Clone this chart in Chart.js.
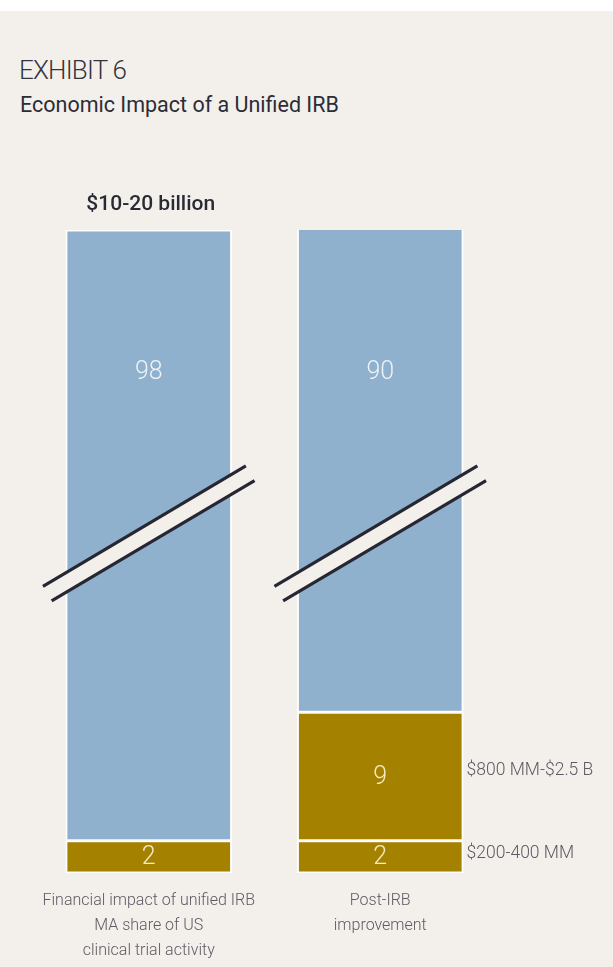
<!DOCTYPE html>
<html>
<head>
<meta charset="utf-8">
<title>Economic Impact of a Unified IRB</title>
<script src="https://cdn.jsdelivr.net/npm/chart.js@4.4.1/dist/chart.umd.min.js"></script>
<style>
    html, body { margin: 0; padding: 0; }
    body {
        width: 613px;
        height: 967px;
        background: linear-gradient(#ffffff 0, #ffffff 11px, #f3f0eb 11px);
        position: relative;
        overflow: hidden;
        font-family: Roboto, "Open Sans", sans-serif;
    }
    .exhibit {
        position: absolute; left: 19px; top: 55px;
        font-size: 26px; font-weight: 300; color: #34343f;
        letter-spacing: -0.8px;
    }
    .headline {
        position: absolute; left: 20px; top: 92px;
        font-size: 21.5px; font-weight: 400; color: #2c2c37;
    }
    #chartWrap { position: absolute; left: 0; top: 0; width: 613px; height: 967px; }
</style>
</head>
<body>
<div class="exhibit">EXHIBIT 6</div>
<div class="headline">Economic Impact of a Unified IRB</div>
<div id="chartWrap"><canvas id="irbChart" width="613" height="967"></canvas></div>

<script>
/* ─── Data ─────────────────────────────────────────────────────── */
const CATEGORIES = [
    ['Financial impact of unified IRB', 'MA share of US', 'clinical trial activity'],
    ['Post-IRB', 'improvement'],
];
const LOWER_VALUES  = [2, 2];
const MIDDLE_VALUES = [null, 9];
const UPPER_VALUES  = [98, 90];

const TOTAL_NOTES  = ['$10-20 billion', null];
const LOWER_NOTES  = [null, '$200-400 MM'];
const MIDDLE_NOTES = [null, '$800 MM-$2.5 B'];

// where the axis is cut (value on the y scale)
const BREAK_AT = 44;

/* ─── Colours ──────────────────────────────────────────────────── */
const BLUE   = '#8fb1cd';
const GOLD   = '#a58100';
const PAPER  = '#f3f0eb';
const INK    = '#272733';
const NOTE   = '#5c5a63';
const THIN   = '300 25px Roboto, "Open Sans", sans-serif';

/* ─── Piecewise linear scale for the broken axis ───────────────── */
class BrokenScale extends Chart.LinearScale {
    static id = 'broken';
    static defaults = Chart.LinearScale.defaults;

    getPixelForValue(value) {
        const knots = this.options.knots;
        const h = this.bottom - this.top;
        if (value <= knots[0][0]) return this.bottom - knots[0][1] * h;
        for (let i = 1; i < knots.length; i++) {
            const [v0, s0] = knots[i - 1];
            const [v1, s1] = knots[i];
            if (value <= v1 || i === knots.length - 1) {
                const share = s0 + (value - v0) / (v1 - v0) * (s1 - s0);
                return this.bottom - share * h;
            }
        }
    }

    getValueForPixel(pixel) {
        const knots = this.options.knots;
        const share = (this.bottom - pixel) / (this.bottom - this.top);
        for (let i = 1; i < knots.length; i++) {
            const [v0, s0] = knots[i - 1];
            const [v1, s1] = knots[i];
            if (share <= s1 || i === knots.length - 1) {
                return v0 + (share - s0) / (s1 - s0) * (v1 - v0);
            }
        }
    }
}
Chart.register(BrokenScale);

/* ─── Labels, notes and break marks ────────────────────────────── */
const annotations = {
    id: 'annotations',
    afterDatasetsDraw(chart) {
        const { ctx, chartArea } = chart;
        const yScale = chart.scales.y;
        const lower  = chart.getDatasetMeta(0).data;
        const middle = chart.getDatasetMeta(1).data;
        const upper  = chart.getDatasetMeta(2).data;

        ctx.save();

        // break marks: paper band with two dark rules
        const angle = -30.7 * Math.PI / 180;
        const half  = 118;
        const gap   = 8.5;
        const yBreak = yScale.getPixelForValue(BREAK_AT);
        upper.forEach(bar => {
            ctx.save();
            ctx.translate(bar.x, yBreak);
            ctx.rotate(angle);
            ctx.fillStyle = PAPER;
            ctx.fillRect(-half + 6, -gap, 2 * half - 12, 2 * gap);
            ctx.strokeStyle = INK;
            ctx.lineWidth = 3.2;
            ctx.beginPath();
            ctx.moveTo(-half, -gap); ctx.lineTo(half, -gap);
            ctx.moveTo(-half, gap);  ctx.lineTo(half, gap);
            ctx.stroke();
            ctx.restore();
        });

        ctx.textAlign = 'center';
        ctx.textBaseline = 'middle';
        ctx.font = THIN;

        // values inside the segments
        ctx.fillStyle = 'rgba(244, 247, 250, 0.92)';
        upper.forEach((bar, i) => {
            if (UPPER_VALUES[i] == null) return;
            const top = Math.max(bar.y, chartArea.top);
            ctx.fillText(UPPER_VALUES[i], bar.x, top + 143);
        });
        ctx.fillStyle = 'rgba(250, 238, 200, 0.95)';
        [[middle, MIDDLE_VALUES], [lower, LOWER_VALUES]].forEach(([bars, values]) => {
            bars.forEach((bar, i) => {
                if (values[i] == null) return;
                ctx.fillText(values[i], bar.x, (bar.y + bar.base) / 2 + 1);
            });
        });

        // range notes to the right of the bars
        ctx.textAlign = 'left';
        ctx.fillStyle = NOTE;
        ctx.font = '300 17.5px Roboto, "Open Sans", sans-serif';
        [[middle, MIDDLE_NOTES, -6], [lower, LOWER_NOTES, -3]].forEach(([bars, notes, shift]) => {
            bars.forEach((bar, i) => {
                if (!notes[i]) return;
                ctx.fillText(notes[i], bar.x + bar.width / 2 + 3, (bar.y + bar.base) / 2 + shift);
            });
        });

        // total above the bar
        ctx.textAlign = 'center';
        ctx.fillStyle = '#2a2a35';
        ctx.font = '500 21px Roboto, "Open Sans", sans-serif';
        upper.forEach((bar, i) => {
            if (!TOTAL_NOTES[i]) return;
            ctx.fillText(TOTAL_NOTES[i], bar.x + 2, chartArea.top - 25);
        });

        ctx.restore();
    },
};

/* ─── Chart ────────────────────────────────────────────────────── */
const segment = {
    borderColor   : '#ffffff',
    borderWidth   : { top: 1.5, bottom: 1.5, left: 2, right: 2 },
    borderSkipped : false,
    barPercentage : 1,
    categoryPercentage: 0.72,
    clip: { left: false, right: false, bottom: false, top: 0 },
};

new Chart(document.getElementById('irbChart'), {
    type: 'bar',
    data: {
        labels: CATEGORIES,
        datasets: [
            { label: 'Base',        data: LOWER_VALUES,  backgroundColor: GOLD, ...segment },
            { label: 'Improvement', data: MIDDLE_VALUES, backgroundColor: GOLD, ...segment },
            { label: 'Remainder',   data: UPPER_VALUES,  backgroundColor: BLUE, ...segment },
        ],
    },
    options: {
        responsive: false,
        animation: false,
        layout: { padding: { left: 33, right: 117, top: 230, bottom: 4 } },
        plugins: {
            legend: { display: false },
            tooltip: { enabled: false },
        },
        scales: {
            x: {
                stacked: true,
                grid: { display: false, drawTicks: false },
                border: { display: false },
                afterFit(scale) { scale.height = 90; },
                ticks: {
                    padding: 15,
                    color: NOTE,
                    font: { family: 'Roboto, "Open Sans", sans-serif', size: 16, weight: '300', lineHeight: '25px' },
                    maxRotation: 0,
                    autoSkip: false,
                },
            },
            y: {
                type: 'broken',
                stacked: true,
                display: false,
                min: 0,
                max: 100,
                knots: [[0, 0], [2, 0.05], [11, 0.25], [100, 1]],
            },
        },
    },
    plugins: [annotations],
});
</script>
</body>
</html>
